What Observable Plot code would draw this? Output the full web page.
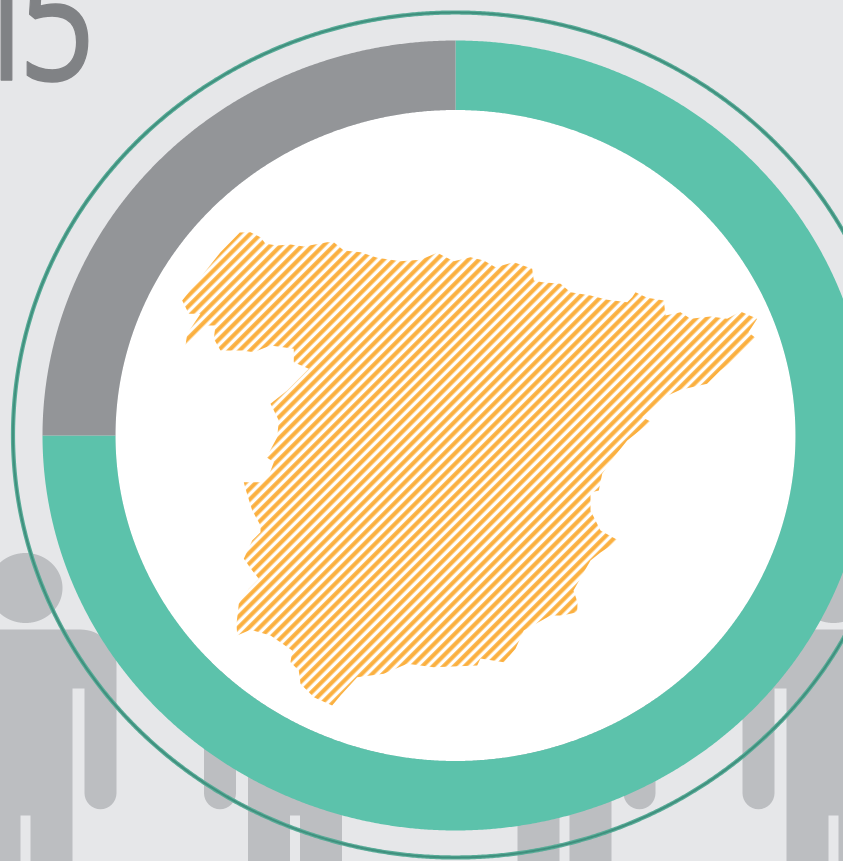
<!DOCTYPE html>
<html>
<head>
<meta charset="utf-8">
<script src="https://cdn.jsdelivr.net/npm/d3@7"></script>
<script src="https://cdn.jsdelivr.net/npm/@observablehq/plot@0.6"></script>
<style>html,body{margin:0;padding:0;background:#e6e7e9;overflow:hidden}svg{display:block}</style>
</head>
<body>
<script>
// Chart values
const shareLabels = ["teal", "gray"];
const shareValues = [75, 25];
const shareColors = ["#5cc2ab", "#939598"];
const yearLabel = ["15"];
const personCenters = [25, 294.5, 564, 833];
// Outline of Spain
const mapX = [181.7,220,239.3,250,260,265,276.7,290,303.3,326.7,333.3,343.3,360,376.7,400,420,436.7,453.3,470,483.3,495,513.3,531.7,533.3,541.7,560,570,590,606.7,626.7,631.7,635,646.7,663.3,665,680,690,710,726.7,740,756.7,748,756,736.7,720,706.7,680,663.3,641.7,650,638.3,626.7,613.3,601.7,598.3,590,590,600,618,600,590,584.3,573,577,576.7,561.7,550,523.3,515,503.3,480,476.7,433.3,406.7,383.3,356.7,340,331.7,313.3,300,298.3,290,291.7,270,250,236.7,236,238.3,248.3,258.3,251.7,243.3,251.7,260,260,251.7,245,243.3,261.7,268.3,273.3,266,276.7,278.3,270,286.7,308.3,293.3,293.3,270,253.3,241.7,231.7,220,213.3,215,205,185,186.7,200,188.3,183.3];
const mapY = [300,251.7,232,231.7,236.7,243.3,245,244,246,241.7,241.7,250,251.7,257.3,260.7,259.3,252.3,260.7,256.7,260,266.7,261.7,268.3,280,281.7,283.3,291.7,295,299.3,301.7,296.7,291.7,297.3,300,315,311.7,318.3,316,318.3,311,318.3,331.7,338.3,356.7,370,383.3,389.3,396.7,416.7,421,430.7,440,456.7,473.3,490,492,510,530,540,552,560,570,590,601.7,611.7,615,615,630,648.3,661.7,658,665,666.7,663.3,673.3,676.7,695,705,696.7,683.3,670,661.7,650,635,629.3,635,623.3,603.3,588.3,578.3,570,558.3,540,531.7,525,510,488.3,481.7,481.7,475,461.7,456.7,436.7,420,403.3,390,368.3,361.7,348.3,345,351.7,350,350,350,338.3,325,325,345,333.3,313.3,313.3,303.3];

const W = 843, H = 861;
const CX = 455, CY = 435;
const angles = d3.range(0, 1441);

function ellipse(cx, cy, rx, ry) {
  return angles.map(a => {
    const t = a * Math.PI / 720;
    return {x: cx + rx * Math.sin(t), y: cy - ry * Math.cos(t)};
  });
}
function slice(a0, a1, rx0, ry0, rx1, ry1) {
  const pts = [];
  const n = Math.ceil(Math.abs(a1 - a0) * 4);
  for (let i = 0; i <= n; ++i) {
    const t = (a0 + (a1 - a0) * i / n) * Math.PI / 180;
    pts.push({x: CX + rx1 * Math.sin(t), y: CY - ry1 * Math.cos(t)});
  }
  for (let i = n; i >= 0; --i) {
    const t = (a0 + (a1 - a0) * i / n) * Math.PI / 180;
    pts.push({x: CX + rx0 * Math.sin(t), y: CY - ry0 * Math.cos(t)});
  }
  return pts;
}
function arcPts(cx, cy, r, from, to) {
  const pts = [];
  for (let i = 0; i <= 16; ++i) {
    const t = (from + (to - from) * i / 16) * Math.PI / 180;
    pts.push([cx + r * Math.cos(t), cy + r * Math.sin(t)]);
  }
  return pts;
}
function person(c) {
  const pts = [
    ...arcPts(c - 55, 665, 36, 180, 270),
    ...arcPts(c + 55, 665, 36, 270, 360),
    ...arcPts(c + 75, 792.7, 16, 0, 180),
    [c + 59, 688], [c + 47, 688], [c + 47, H], [c + 5, H], [c + 5, 815], [c - 5, 815], [c - 5, H], [c - 47, H], [c - 47, 688], [c - 59, 688],
    ...arcPts(c - 75, 792.7, 16, 0, 180)
  ];
  return pts.map(([x, y]) => ({x, y, c}));
}

const people = personCenters.flatMap(person);
const heads = personCenters.flatMap(c => ellipse(c, 587.5, 37, 35).map(d => ({...d, c})));
const total = d3.sum(shareValues);
let run = 0;
const slices = shareValues.flatMap((v, i) => {
  const a0 = run / total * 360; run += v;
  const a1 = run / total * 360;
  return slice(a0, a1, 340, 325.5, 413, 395).map(d => ({...d, k: shareLabels[i], color: shareColors[i]}));
});
const mapOutline = mapX.map((x, i) => ({x, y: mapY[i]}));

const chart = Plot.plot({
  width: W, height: H,
  margin: 0,
  x: {domain: [0, W], range: [0, W], axis: null},
  y: {domain: [0, H], range: [0, H], axis: null},
  style: {background: "#e6e7e9"},
  marks: [
    Plot.text(yearLabel, {
      text: d => d, x: () => -36, y: () => 79,
      textAnchor: "start", lineAnchor: "bottom",
      fill: "#808285", stroke: "#808285", strokeWidth: 1.5,
      fontFamily: "Open Sans", fontWeight: 400, fontSize: 175
    }),
    Plot.line(people, {x: "x", y: "y", z: "c", fill: "#bcbec1", stroke: "none"}),
    Plot.line(heads, {x: "x", y: "y", z: "c", fill: "#bcbec1", stroke: "none"}),
    Plot.line(ellipse(CX, 434.5, 442.5, 422.5), {x: "x", y: "y", stroke: "#58ab97", strokeWidth: 4.2}),
    Plot.line(ellipse(CX, 434.5, 442.5, 422.5), {x: "x", y: "y", stroke: "#3f8f7d", strokeWidth: 1.8}),
    Plot.line(ellipse(CX, CY, 340, 325.5), {x: "x", y: "y", fill: "#ffffff", stroke: "none"}),
    Plot.line(slices, {x: "x", y: "y", z: "k", fill: "color", stroke: "none"}),
    Plot.line(mapOutline, {x: "x", y: "y", fill: "url(#hatch)", stroke: "none"})
  ]
});

const defs = d3.select(chart).insert("defs", ":first-child");
const pat = defs.append("pattern")
  .attr("id", "hatch")
  .attr("patternUnits", "userSpaceOnUse")
  .attr("width", 7.5).attr("height", 7.5)
  .attr("patternTransform", "rotate(45)");
pat.append("rect").attr("x", 2.05).attr("y", 0).attr("width", 4.1).attr("height", 7.5).attr("fill", "#fbb040");

d3.select(chart).selectAll("text")
  .style("letter-spacing", "-30px")
  .attr("transform", function () { return (this.getAttribute("transform") || "") + " scale(0.77,1)"; });

document.body.appendChild(chart);
</script>
</body>
</html>
